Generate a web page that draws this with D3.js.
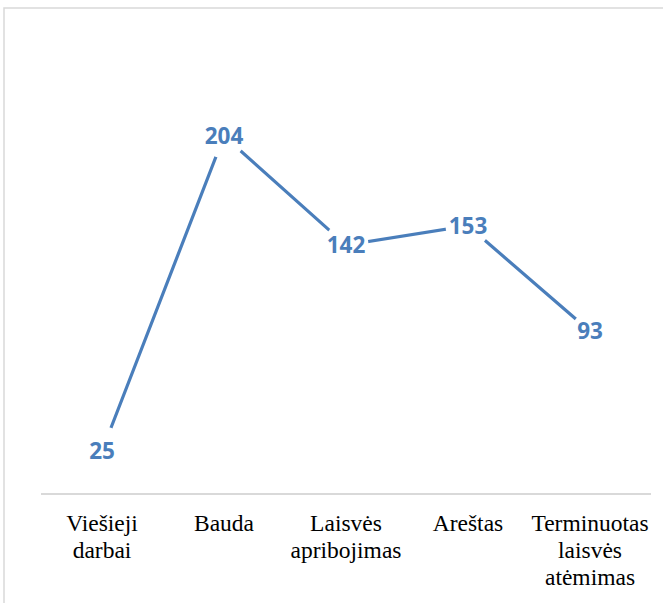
<!DOCTYPE html>
<html>
<head>
<meta charset="utf-8">
<script src="https://cdn.jsdelivr.net/npm/d3@7"></script>
<style>
html,body{margin:0;padding:0;background:#fff;}
svg{display:block;}
.cat{font-family:"Liberation Serif","Tinos","DejaVu Serif",serif;}
.val{font-family:"Open Sans","Noto Sans",sans-serif;}
</style>
</head>
<body>
<svg id="chart" width="663" height="603"></svg>
<script>
const categories = [["Viešieji","darbai"],["Bauda"],["Laisvės","apribojimas"],["Areštas"],["Terminuotas","laisvės","atėmimas"]];
const values = [25, 204, 142, 153, 93];
const color = "#4a7ebb";

const svg = d3.select("#chart");
const W = 663, H = 603;

// outer frame
svg.append("rect").attr("x",4).attr("y",8).attr("width",W+10).attr("height",H+10)
  .attr("fill","none").attr("stroke","#d9d9d9").attr("stroke-width",1.5);

const keys = categories.map((c,i)=>i);
const x = d3.scalePoint().domain(keys).range([41,651]).padding(0.5);
const y = d3.scaleLinear().domain([0,250]).range([495,55]);

// x axis line
svg.append("line").attr("x1",41).attr("x2",651).attr("y1",y(0)-1).attr("y2",y(0)-1)
  .attr("stroke","#d9d9d9").attr("stroke-width",2);

// mask for line gaps around labels
const defs = svg.append("defs");
const mask = defs.append("mask").attr("id","gap").attr("maskUnits","userSpaceOnUse")
  .attr("x",0).attr("y",0).attr("width",W).attr("height",H);
mask.append("rect").attr("x",0).attr("y",0).attr("width",W).attr("height",H).attr("fill","#fff");
mask.selectAll("circle").data(values).join("circle")
  .attr("cx",(d,i)=>x(i)).attr("cy",d=>y(d)).attr("r",(d,i)=> i===0?25:(i===4?19:22.5)).attr("fill","#000");

const line = d3.line().x((d,i)=>x(i)).y(d=>y(d));
svg.append("path").datum(values).attr("d",line)
  .attr("fill","none").attr("stroke",color).attr("stroke-width",3.2)
  .attr("mask","url(#gap)");

// data labels
svg.selectAll("text.val").data(values).join("text").attr("class","val")
  .attr("x",(d,i)=>x(i)).attr("y",d=>y(d)+8)
  .attr("text-anchor","middle")
  .attr("font-weight",700)
  .attr("font-size",22.5).attr("fill",color)
  .text(d=>d);

// category labels
const cat = svg.selectAll("text.cat").data(categories).join("text").attr("class","cat")
  .attr("text-anchor","middle")
  .attr("font-size",23.5).attr("fill","#000");
cat.each(function(lines,i){
  const t = d3.select(this);
  lines.forEach((l,j)=>{
    t.append("tspan").attr("x",x(i)).attr("y",531+j*27).text(l);
  });
});
</script>
</body>
</html>
